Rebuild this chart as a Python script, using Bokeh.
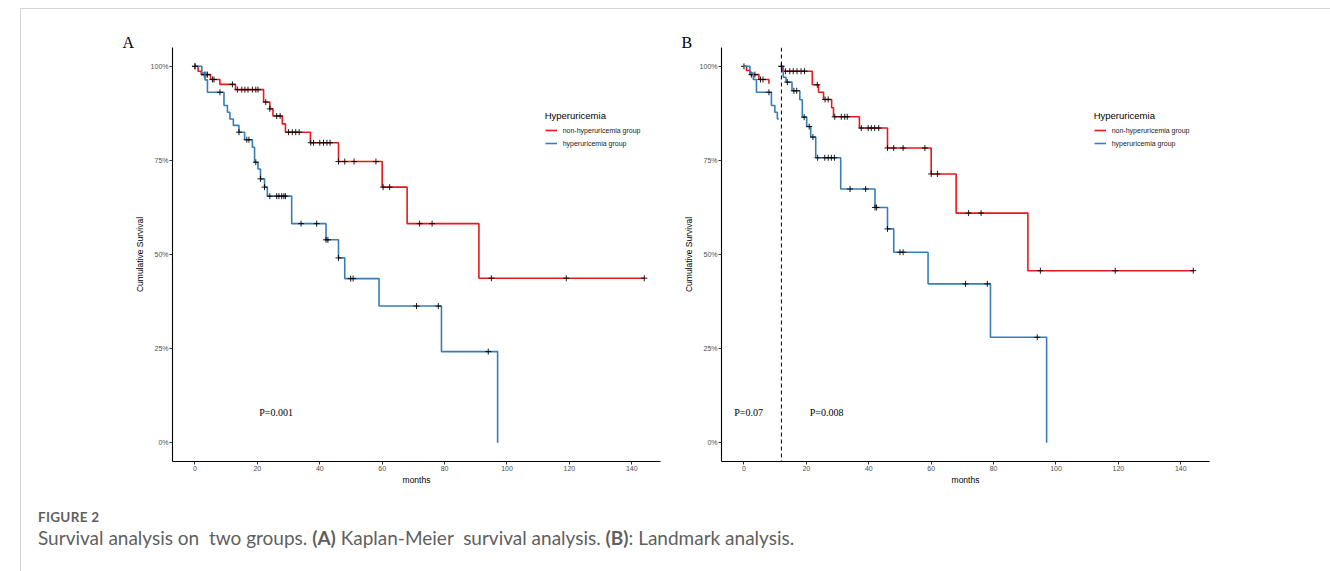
import numpy as np
from bokeh.plotting import figure
from bokeh.models import (Range1d, FixedTicker, PrintfTickFormatter, Span, Label,
                          Legend, LegendItem, Div, Title)
from bokeh.layouts import row, column
from bokeh.embed import file_html
from bokeh.resources import INLINE

# ---------------- data (months, survival %) ----------------
GROUP_LABELS = ["non-hyperuricemia group", "hyperuricemia group"]
LEGEND_TITLE = "Hyperuricemia"
PANEL_LETTERS = ["A", "B"]
X_TICKS = [0, 20, 40, 60, 80, 100, 120, 140]
Y_TICKS = [0, 25, 50, 75, 100]
LANDMARK = 12

# Panel A: Kaplan-Meier
a_red_time = [0, 1, 2, 5, 8, 13, 22, 24, 25, 28, 29, 37, 46, 60, 68, 91]
a_red_surv = [100, 98.7, 97.8, 96.5, 95.2, 93.8, 90.5, 88.7, 86.8, 84.7, 82.5, 79.7, 74.7, 67.9, 58.2, 43.7]
a_red_end = 144
a_red_cens = [0, 3, 3.5, 4, 5.6, 6.1, 12, 13.6, 15, 16, 17, 18.4, 19.5, 20.2, 22.7, 24, 26.2, 27.3,
              30, 31.2, 32.3, 33.4, 37.1, 38, 40, 41.2, 42.3, 43.3, 46, 48, 51, 58, 60.3, 62.4,
              72, 76, 95, 119, 144]

a_blue_time = [0, 2.2, 3.2, 4, 9.3, 10.4, 11.2, 12.3, 14.1, 15.9, 18.4, 19.1, 20.2, 21, 22.3, 23.2,
               31, 42, 46, 48, 59, 79, 97]
a_blue_surv = [100, 98.2, 96.4, 93.1, 89.6, 87.8, 86, 84.3, 82.5, 80.5, 78.5, 74.5, 72.7, 70.1, 67.9, 65.5,
               58.2, 53.9, 49.1, 43.6, 36.3, 24.2, 0]
a_blue_end = 97
a_blue_cens = [0, 8, 14.1, 16.6, 17.3, 19.5, 21, 22.3, 24, 26.2, 26.9, 27.8, 28.5, 29, 34, 39, 42, 42.6,
               46, 49.9, 50.7, 71, 78, 94]

# Panel B: Landmark analysis (before landmark)
b_red_pre_time = [0, 0.8, 1.9, 4.8, 8]
b_red_pre_surv = [100, 98.9, 97.8, 96.5, 95.4]
b_red_pre_end = 8
b_red_pre_cens = [0, 2.4, 3.5, 5.3, 6.1]

b_blue_pre_time = [0, 1.9, 3, 4, 8.8, 9.9, 10.7]
b_blue_pre_surv = [100, 98.2, 96.5, 93.1, 89.6, 87.8, 86]
b_blue_pre_end = 11.2
b_blue_pre_cens = [8]

# Panel B: after landmark
b_red_post_time = [12, 12.3, 21.9, 23.9, 25.5, 28.1, 28.7, 37, 46, 60, 68, 91]
b_red_post_surv = [100, 98.7, 95.1, 93.1, 91.2, 89, 86.6, 83.6, 78.3, 71.4, 61, 45.7]
b_red_post_end = 144
b_red_post_cens = [12, 13.3, 14.7, 15.8, 17, 18.3, 19.4, 23.5, 26, 27, 29.1, 31.2, 32.3, 33.1,
                   37.6, 39.8, 40.8, 41.9, 43.2, 46, 48, 51, 58, 60, 62, 72, 76, 95, 119, 144]

b_blue_post_time = [12, 12.6, 13.5, 15.4, 17.9, 18.7, 20.1, 21.4, 23, 31, 42, 46, 48, 59, 79, 97]
b_blue_post_surv = [100, 97.1, 95.8, 93.5, 91.1, 86.5, 84, 81.2, 75.7, 67.4, 62.5, 56.8, 50.6, 42.2, 28, 0]
b_blue_post_end = 97
b_blue_post_cens = [12, 13.9, 16, 16.9, 19.3, 20.9, 22.1, 23.6, 25.9, 27, 28, 29, 34, 39, 42, 42.5,
                    46, 50, 51, 71, 78, 94]

P_TEXT_A = ["P=0.001"]
P_TEXT_B = ["P=0.07", "P=0.008"]
P_X_A = [26]
P_X_B = [1.5, 26.5]
P_Y = 8

RED = "#E41A1C"
BLUE = "#377EB8"


def draw_curve(p, times, surv, end, cens, color):
    xs = list(times) + [end]
    ys = list(surv) + [surv[-1]]
    r = p.step(xs, ys, mode="after", line_color=color, line_width=1.6)
    t = np.asarray(times, dtype=float)
    s = np.asarray(surv, dtype=float)
    c = np.asarray(cens, dtype=float)
    idx = np.clip(np.searchsorted(t, c, side="right") - 1, 0, len(s) - 1)
    p.scatter(c, s[idx], marker="cross", size=6, line_color="black", line_width=0.9)
    return r


def make_fig(width, left, right, letter, letter_offset):
    p = figure(width=width, height=485, x_range=Range1d(-7.2, 149.2), y_range=Range1d(-5, 105),
               output_backend="svg", toolbar_location=None,
               min_border_left=left, min_border_right=right, min_border_top=38, min_border_bottom=33)
    p.title = Title(text=letter, align="left", offset=letter_offset, vertical_align="bottom",
                    text_font="Liberation Serif", text_font_size="16px", text_font_style="normal",
                    text_color="black", standoff=-6)
    p.outline_line_color = None
    p.xgrid.visible = False
    p.ygrid.visible = False
    p.background_fill_color = "white"
    p.border_fill_color = "white"
    p.xaxis.ticker = FixedTicker(ticks=X_TICKS)
    p.yaxis.ticker = FixedTicker(ticks=Y_TICKS)
    p.yaxis.formatter = PrintfTickFormatter(format="%d%%")
    p.xaxis.axis_label = "months"
    p.yaxis.axis_label = "Cumulative Survival"
    for ax in (p.xaxis, p.yaxis):
        ax.axis_line_color = "black"
        ax.axis_line_width = 1.1
        ax.major_tick_line_color = "#333333"
        ax.major_tick_out = 3
        ax.major_tick_in = 0
        ax.minor_tick_line_color = None
        ax.major_label_text_font = "Liberation Sans"
        ax.major_label_text_font_size = "7px"
        ax.major_label_text_color = "#4D4D4D"
        ax.major_label_standoff = 1
        ax.axis_label_text_font = "Liberation Sans"
        ax.axis_label_text_font_size = "8.5px"
        ax.axis_label_text_font_style = "normal"
        ax.axis_label_text_color = "black"
        ax.axis_label_standoff = 1
    p.yaxis.axis_label_standoff = 3
    return p


def add_legend(p, r_red, r_blue):
    leg = Legend(items=[LegendItem(label=GROUP_LABELS[0], renderers=[r_red]),
                        LegendItem(label=GROUP_LABELS[1], renderers=[r_blue])],
                 location=(372.7, 312.7), title=LEGEND_TITLE)
    leg.title_text_font = "Liberation Sans"
    leg.title_text_font_size = "9.5px"
    leg.title_text_font_style = "normal"
    leg.title_text_color = "black"
    leg.title_standoff = 4
    leg.label_text_font = "Liberation Sans"
    leg.label_text_font_size = "7px"
    leg.label_text_color = "#1a1a1a"
    leg.glyph_width = 12
    leg.glyph_height = 10
    leg.spacing = 3
    leg.padding = 0
    leg.margin = 0
    leg.label_standoff = 6
    leg.border_line_color = None
    leg.background_fill_alpha = 0
    p.add_layout(leg, "center")


# ---------------- Panel A ----------------
pA = make_fig(650, 151, 11, PANEL_LETTERS[0], -50)
rA_red = draw_curve(pA, a_red_time, a_red_surv, a_red_end, a_red_cens, RED)
rA_blue = draw_curve(pA, a_blue_time, a_blue_surv, a_blue_end, a_blue_cens, BLUE)
add_legend(pA, rA_red, rA_blue)
for txt, x in zip(P_TEXT_A, P_X_A):
    pA.add_layout(Label(x=x, y=P_Y, text=txt, text_font="Liberation Serif", text_font_size="10px",
                        text_align="center", text_baseline="middle", text_color="black"))

# ---------------- Panel B ----------------
pB = make_fig(659, 50, 121, PANEL_LETTERS[1], -40)
draw_curve(pB, b_red_pre_time, b_red_pre_surv, b_red_pre_end, b_red_pre_cens, RED)
draw_curve(pB, b_blue_pre_time, b_blue_pre_surv, b_blue_pre_end, b_blue_pre_cens, BLUE)
rB_red = draw_curve(pB, b_red_post_time, b_red_post_surv, b_red_post_end, b_red_post_cens, RED)
rB_blue = draw_curve(pB, b_blue_post_time, b_blue_post_surv, b_blue_post_end, b_blue_post_cens, BLUE)
pB.add_layout(Span(location=LANDMARK, dimension="height", line_color="black", line_width=1,
                   line_dash="4 3"))
add_legend(pB, rB_red, rB_blue)
for txt, x in zip(P_TEXT_B, P_X_B):
    pB.add_layout(Label(x=x, y=P_Y, text=txt, text_font="Liberation Serif", text_font_size="10px",
                        text_align="center", text_baseline="middle", text_color="black"))

# ---------------- Caption ----------------
caption = Div(text=(
    '<div style="padding-left:12px;font-family:Lato,\'Open Sans\',sans-serif;color:#5f5f5f;">'
    '<div style="font-size:13.5px;font-weight:bold;letter-spacing:0.3px;margin-top:10px;line-height:16px;">FIGURE 2</div>'
    '<div style="font-size:19px;margin-top:1px;line-height:24px;white-space:nowrap;">'
    'Survival analysis on &nbsp;two groups. <b>(A)</b> Kaplan-Meier &nbsp;survival analysis. '
    '<b>(B)</b>: Landmark analysis.</div></div>'), width=1300, height=70)

layout = column(row(pA, pB), caption, margin=(8, 0, 0, 20),
                styles={"border-top": "1px solid #d4d4d4", "border-left": "1px solid #d4d4d4"})

open("out.html", "w").write(file_html(layout, INLINE))
